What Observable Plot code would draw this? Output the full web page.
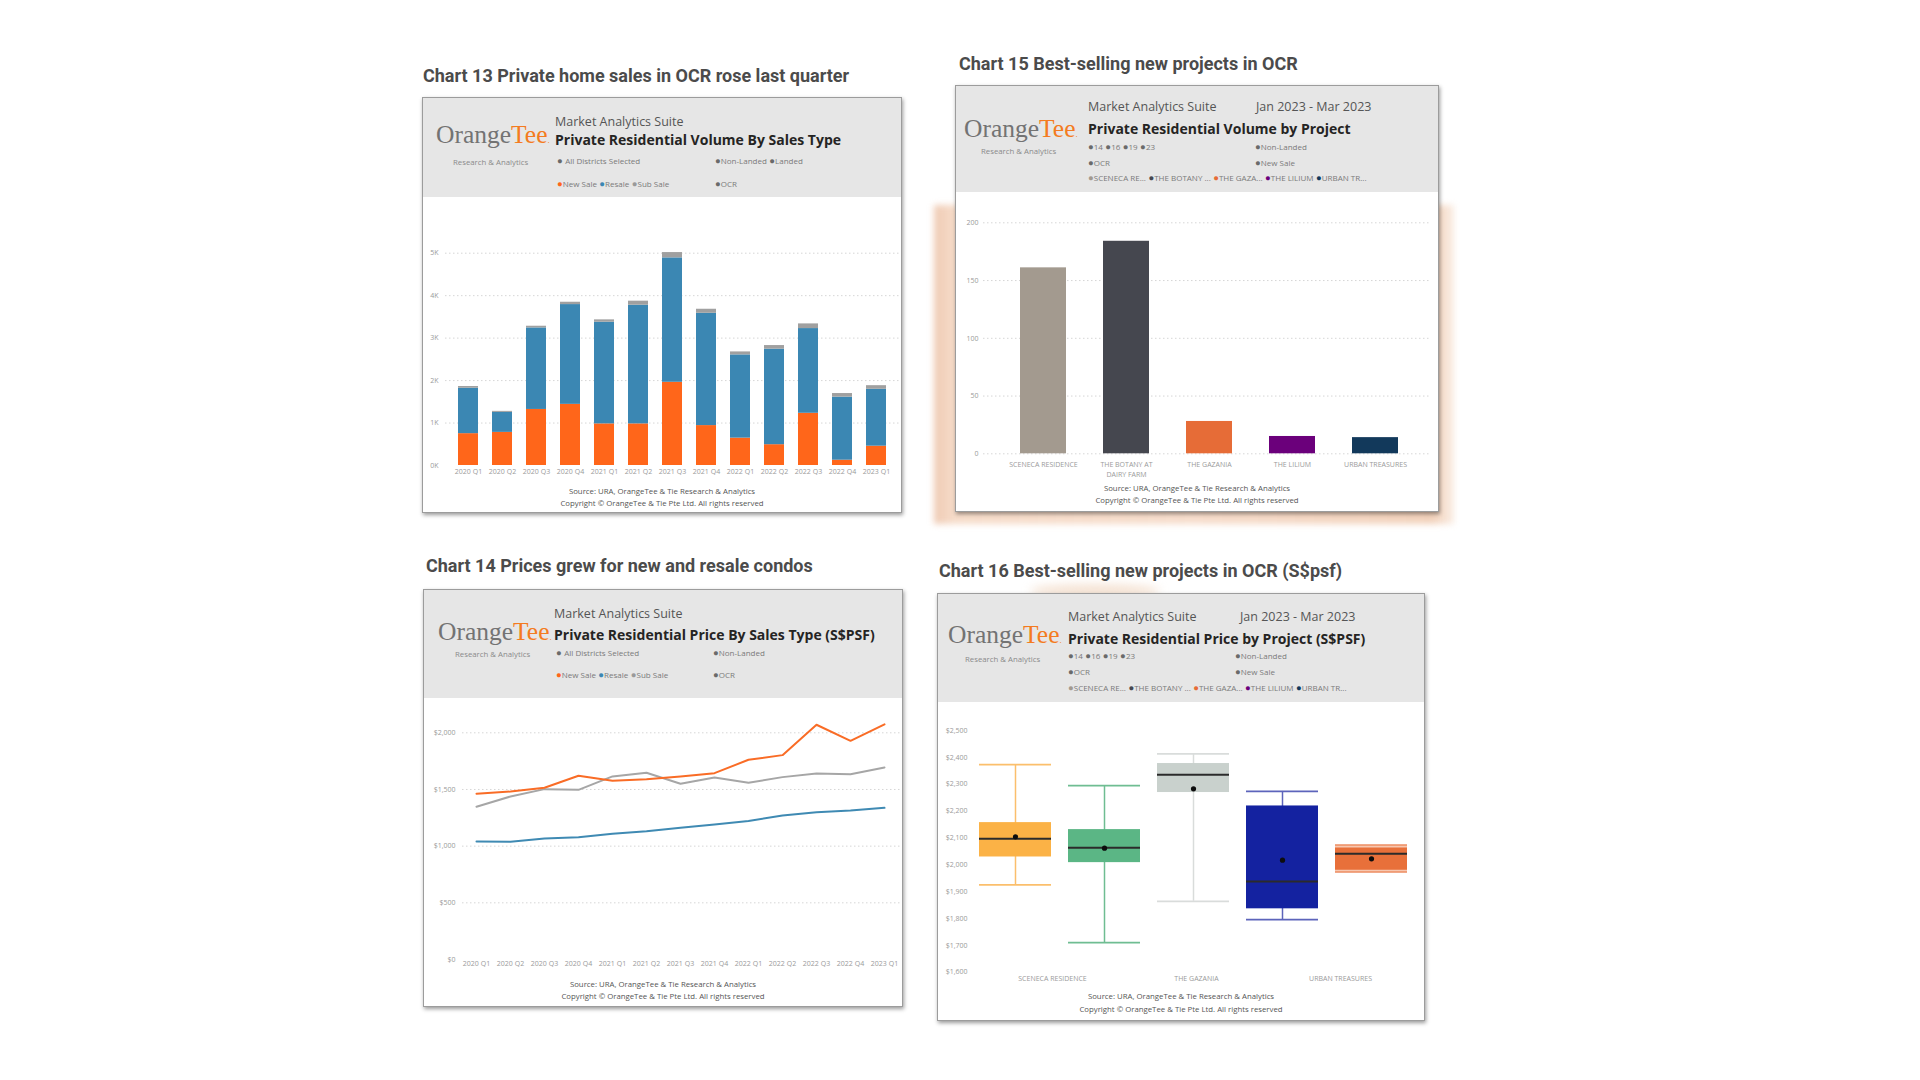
<!DOCTYPE html>
<html><head><meta charset="utf-8">
<script src="https://cdn.jsdelivr.net/npm/d3@7"></script>
<script src="https://cdn.jsdelivr.net/npm/@observablehq/plot@0.6"></script>
<style>
html,body{margin:0;padding:0;background:#fff;width:1920px;height:1080px;overflow:hidden;position:relative;font-family:'Open Sans',sans-serif;}
.panel{position:absolute;background:#fff;border:1.5px solid #9c9c9c;box-shadow:1px 2px 4px rgba(0,0,0,.4);box-sizing:border-box;z-index:1;}
.hdr{position:absolute;left:0;top:0;right:0;background:#e6e6e6;}
.plotbox{position:absolute;z-index:2;}
#overlay{position:absolute;left:0;top:0;z-index:3;pointer-events:none;}
#stain{position:absolute;left:934px;top:205px;width:520px;height:319px;z-index:0;
 background:linear-gradient(90deg, rgba(226,160,118,.55) 0%, rgba(240,196,165,.6) 4%, rgba(238,190,158,.55) 50%, rgba(232,178,140,.6) 96%, rgba(240,200,170,.3) 100%);filter:blur(3px);}
#stain2{position:absolute;left:1030px;top:584px;width:130px;height:14px;z-index:0;background:rgba(236,200,170,.5);filter:blur(5px);border-radius:50%;}
</style></head>
<body>
<div id="stain"></div><div id="stain2"></div>
<svg id="overlay" width="1920" height="1080"></svg>
<script>
// ---------- data ----------
const quarters = ["2020 Q1","2020 Q2","2020 Q3","2020 Q4","2021 Q1","2021 Q2","2021 Q3","2021 Q4","2022 Q1","2022 Q2","2022 Q3","2022 Q4","2023 Q1"];
const salesTypes = ["New Sale","Resale","Sub Sale"];
const volNewSale = [750,780,1320,1440,980,980,1960,940,645,490,1230,125,455];
const volResale  = [1070,470,1920,2350,2395,2795,2930,2645,1960,2250,1995,1485,1340];
const volSubSale = [40,25,40,55,55,95,125,95,70,85,110,85,85];
const volTicks = [0,1000,2000,3000,4000,5000];

const priceNewSale = [1462,1482,1515,1621,1576,1591,1615,1644,1762,1803,2071,1929,2074];
const priceResale  = [1041,1038,1068,1079,1109,1132,1162,1191,1221,1271,1300,1315,1338];
const priceSubSale = [1347,1438,1503,1497,1615,1647,1550,1606,1559,1609,1641,1635,1694];
const priceTicks = [0,500,1000,1500,2000];

const projects = ["SCENECA RESIDENCE","THE BOTANY AT DAIRY FARM","THE GAZANIA","THE LILIUM","URBAN TREASURES"];
const projectVolume = [161,184,28,15,14];
const projectTicks = [0,50,100,150,200];

const psfMin    = [1925,1710,1864,1796,1978];
const psfQ1     = [2029,2008,2269,1836,1969];
const psfMedian = [2097,2063,2335,1938,2041];
const psfQ3     = [2157,2131,2377,2219,2074];
const psfMax    = [2373,2295,2413,2273,2068];
const psfMean   = [2104,2062,2283,2017,2022];
const psfTicks  = [1600,1700,1800,1900,2000,2100,2200,2300,2400,2500];
const psfAxisLabels = ["SCENECA RESIDENCE","THE GAZANIA","URBAN TREASURES"];

// ---------- styles ----------
const salesColors = ["#ff661a","#3b87b3","#a0a0a0"];
const lineColors  = ["#f96c26","#3f8ab3","#a6a6a6"];
const projectColors = ["#a39a8f","#45474f","#e66c37","#6b007b","#12395b"];
const boxFill    = ["#fbb246","#5bb685","#c9d1cd","#1422a0","#e8703a"];
const boxWhisker = ["#fbbf6c","#6fbd92","#d9dcdb","#5d64bb","#f7c7b0"];
const gridStyle = {stroke:"#d6d6d6", strokeDasharray:"1.5,2.5"};
const plotStyle = {background:"transparent", fontFamily:"'Open Sans',sans-serif", fontSize:"7px", color:"#9a9a9a", overflow:"visible"};

// ---------- panels ----------
const panels = [
  {x:422,y:97,w:480,h:416,hdr:100},
  {x:423,y:589,w:480,h:418,hdr:109},
  {x:955,y:85,w:484,h:427,hdr:107},
  {x:937,y:593,w:488,h:428,hdr:109}
];
panels.forEach(p=>{
  const d = document.createElement("div");
  d.className="panel";
  Object.assign(d.style,{left:p.x+"px",top:p.y+"px",width:p.w+"px",height:p.h+"px"});
  const h = document.createElement("div");
  h.className="hdr"; h.style.height=(p.hdr-1.5)+"px";
  d.appendChild(h);
  document.body.appendChild(d);
});
function place(svg,x,y){
  const d=document.createElement("div");
  d.className="plotbox"; d.style.left=x+"px"; d.style.top=y+"px";
  d.appendChild(svg); document.body.appendChild(d);
}

// ---------- Chart 13 ----------
const volData = quarters.flatMap((q,i)=>[
  {q,type:"New Sale",v:volNewSale[i]},
  {q,type:"Resale",v:volResale[i]},
  {q,type:"Sub Sale",v:volSubSale[i]}]);
place(Plot.plot({
  width:480,height:314,marginLeft:23,marginRight:2,marginTop:55.7,marginBottom:46,
  style:plotStyle,
  x:{type:"band",domain:quarters,range:[29,471],paddingInner:0.41,paddingOuter:0.205,label:null},
  y:{domain:[0,5000],range:[268,55.7],label:null},
  color:{domain:salesTypes,range:salesColors},
  marks:[
    Plot.ruleY(volTicks.slice(1),gridStyle),
    Plot.barY(volData,{x:"q",y:"v",fill:"type"}),
    Plot.axisY({ticks:volTicks,tickFormat:d=>`${d/1000}K`,tickSize:0,tickPadding:7}),
    Plot.axisX({tickSize:0,tickPadding:4})
  ]
}),422,197);

// ---------- Chart 14 ----------
const priceData = [
  ...quarters.map((q,i)=>({q,type:"Sub Sale",v:priceSubSale[i]})),
  ...quarters.map((q,i)=>({q,type:"Resale",v:priceResale[i]})),
  ...quarters.map((q,i)=>({q,type:"New Sale",v:priceNewSale[i]}))];
place(Plot.plot({
  width:480,height:307,marginLeft:39,marginRight:3,marginTop:34.3,marginBottom:46,
  style:plotStyle,
  x:{type:"point",domain:quarters,range:[52,462.7],padding:0,label:null},
  y:{domain:[0,2000],range:[261,34.3],label:null},
  color:{domain:salesTypes,range:lineColors},
  marks:[
    Plot.ruleY(priceTicks.slice(1),gridStyle),
    Plot.line(priceData,{x:"q",y:"v",stroke:"type",z:"type",strokeWidth:2}),
    Plot.axisY({ticks:priceTicks,tickFormat:d3.format("$,"),tickSize:0,tickPadding:7}),
    Plot.axisX({tickSize:0,tickPadding:2})
  ]
}),423,698);

// ---------- Chart 15 ----------
const projLabel = d => d==="THE BOTANY AT DAIRY FARM" ? "THE BOTANY AT\nDAIRY FARM" : d;
place(Plot.plot({
  width:484,height:318,marginLeft:28,marginRight:9,marginTop:30.3,marginBottom:56.7,
  style:plotStyle,
  x:{type:"band",domain:projects,range:[44.15,462.85],paddingInner:0.45,paddingOuter:0.225,label:null},
  y:{domain:[0,200],range:[261.3,30.3],label:null},
  color:{domain:projects,range:projectColors},
  marks:[
    Plot.ruleY(projectTicks,gridStyle),
    Plot.barY(projects.map((p,i)=>({p,v:projectVolume[i]})),{x:"p",y:"v",fill:"p"}),
    Plot.axisY({ticks:projectTicks,tickSize:0,tickPadding:5}),
    Plot.axisX({tickSize:0,tickPadding:6,tickFormat:projLabel,lineHeight:1.4})
  ]
}),955,192);

// ---------- Chart 16 ----------
const boxData = projects.map((p,i)=>({p,min:psfMin[i],q1:psfQ1[i],med:psfMedian[i],q3:psfQ3[i],max:psfMax[i],mean:psfMean[i],fill:boxFill[i],wh:boxWhisker[i]}));
place(Plot.plot({
  width:488,height:317,marginLeft:32,marginRight:8,marginTop:28,marginBottom:47.3,
  style:plotStyle,
  x:{type:"band",domain:projects,range:[32.3,479.4],paddingInner:0.195,paddingOuter:0.0975,label:null,axis:null},
  y:{domain:[1600,2500],range:[269.7,28],label:null},
  color:{type:"identity"},
  marks:[
    Plot.ruleX(boxData,{x:"p",y1:"min",y2:"max",stroke:"wh",strokeWidth:1.5}),
    Plot.barY(boxData,{x:"p",y1:"q1",y2:"q3",fill:"fill"}),
    Plot.tickY(boxData,{x:"p",y:"min",stroke:"wh",strokeWidth:1.8}),
    Plot.tickY(boxData,{x:"p",y:"max",stroke:"wh",strokeWidth:1.8}),
    Plot.tickY(boxData,{x:"p",y:"med",stroke:"#2b2b2b",strokeWidth:2}),
    Plot.dot(boxData,{x:"p",y:"mean",r:2.6,fill:"#0d0d0d",stroke:"none"}),
    Plot.axisY({ticks:psfTicks,tickFormat:d3.format("$,"),tickSize:0,tickPadding:2})
  ]
}),937,702);
// category labels of the box-plot axis (Power BI spreads them evenly across the plot)
place(Plot.plot({
  width:488,height:317,marginLeft:35,marginRight:5,marginTop:28,marginBottom:47.3,
  style:plotStyle,
  x:{type:"band",domain:psfAxisLabels,label:null},
  marks:[Plot.axisX({tickSize:0,tickPadding:4})]
}),937,702);

// ---------- overlay texts ----------
const ov = d3.select("#overlay");
function text(x,y,str,o={}){
  return ov.append("text").attr("x",x).attr("y",y).text(str)
    .attr("font-family",o.family||"'Open Sans',sans-serif")
    .attr("font-size",o.size||8).attr("font-weight",o.weight||400)
    .attr("fill",o.fill||"#666").attr("text-anchor",o.anchor||"start");
}
// chart titles
const titleOpt = {family:"Roboto,sans-serif",size:18,weight:700,fill:"#4b4b4b"};
text(423,82,"Chart 13 Private home sales in OCR rose last quarter",titleOpt);
text(426,572,"Chart 14 Prices grew for new and resale condos",titleOpt);
text(959,70,"Chart 15 Best-selling new projects in OCR",titleOpt);
text(939,577,"Chart 16 Best-selling new projects in OCR (S$psf)",titleOpt);

function logo(x,y){
  const t = ov.append("text").attr("x",x).attr("y",y)
    .attr("font-family","'Liberation Serif',serif").attr("font-size",25.5);
  t.append("tspan").text("Orange").attr("fill","#737373");
  t.append("tspan").text("Tee").attr("fill","#f47b20");
  t.append("tspan").text(".").attr("fill","#f47b20").attr("font-size",9);
}
function legendRow(x,y,items){
  const t = ov.append("text").attr("x",x).attr("y",y)
    .attr("font-family","'Open Sans',sans-serif").attr("font-size",8).attr("fill","#7a7a7a");
  items.forEach((it,i)=>{
    t.append("tspan").text((i?" ":"")+"●"+(it.gap?"  ":"")).attr("fill",it.c||"#6a6a6a").attr("font-size",9.5);
    t.append("tspan").text(it.l).attr("fill","#7a7a7a").attr("font-size",8);
  });
}
const salesLegend = [{l:"New Sale",c:salesColors[0]},{l:"Resale",c:salesColors[1]},{l:"Sub Sale",c:"#9a9a9a"}];
const projShort = ["SCENECA RE...","THE BOTANY ...","THE GAZA...","THE LILIUM","URBAN TR..."];
const projLegend = projShort.map((l,i)=>({l,c:projectColors[i]}));
function header(p,c){
  logo(p.x+c.logo[0],p.y+c.logo[1]);
  text(p.x+c.ra[0],p.y+c.ra[1],"Research & Analytics",{size:7.8,fill:"#8a8a8a"});
  text(p.x+c.mk[0],p.y+c.mk[1],"Market Analytics Suite",{size:12.5,fill:"#555"});
  if(c.jan) text(p.x+c.jan[0],p.y+c.mk[1],"Jan 2023 - Mar 2023",{size:12.5,fill:"#555"});
  text(p.x+c.mk[0],p.y+c.ti[1],c.title,{size:14,weight:700,fill:"#252423"});
  c.rows.forEach(r=>legendRow(p.x+r[0],p.y+r[1],r[2]));
}
header(panels[0],{logo:[14,46],ra:[31,68],mk:[133,29],ti:[133,48],title:"Private Residential Volume By Sales Type",
  rows:[[135,67,[{l:"All Districts Selected",gap:true}]],[293,67,[{l:"Non-Landed"},{l:"Landed"}]],
        [135,90,salesLegend],[293,90,[{l:"OCR"}]]]});
header(panels[1],{logo:[15,51],ra:[32,68],mk:[131,29],ti:[131,51],title:"Private Residential Price By Sales Type (S$PSF)",
  rows:[[133,67,[{l:"All Districts Selected",gap:true}]],[290,67,[{l:"Non-Landed"}]],
        [133,89,salesLegend],[290,89,[{l:"OCR"}]]]});
header(panels[2],{logo:[9,52],ra:[26,69],mk:[133,26],jan:[301],ti:[133,49],title:"Private Residential Volume by Project",
  rows:[[133,65,[{l:"14"},{l:"16"},{l:"19"},{l:"23"}]],[300,65,[{l:"Non-Landed"}]],
        [133,81,[{l:"OCR"}]],[300,81,[{l:"New Sale"}]],[133,96,projLegend]]});
header(panels[3],{logo:[11,50],ra:[28,69],mk:[131,28],jan:[303],ti:[131,51],title:"Private Residential Price by Project (S$PSF)",
  rows:[[131,66,[{l:"14"},{l:"16"},{l:"19"},{l:"23"}]],[298,66,[{l:"Non-Landed"}]],
        [131,82,[{l:"OCR"}]],[298,82,[{l:"New Sale"}]],[131,98,projLegend]]});

// footers
const foot = [[0,397,409],[1,398,410],[2,406,418],[3,406,419]];
foot.forEach(([i,a,b])=>{
  const p=panels[i];
  text(p.x+p.w/2,p.y+a,"Source: URA, OrangeTee & Tie Research & Analytics",{size:7.8,fill:"#555",anchor:"middle"});
  text(p.x+p.w/2,p.y+b,"Copyright © OrangeTee & Tie Pte Ltd. All rights reserved",{size:7.8,fill:"#555",anchor:"middle"});
});
</script>
</body></html>
